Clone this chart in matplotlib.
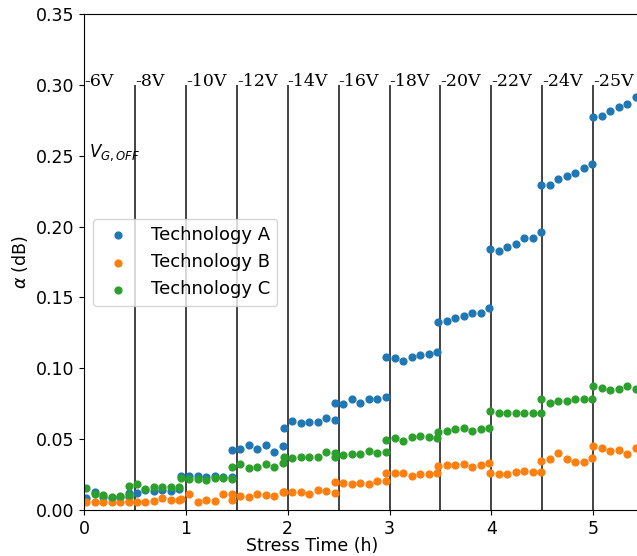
import numpy as np
import matplotlib.pyplot as plt

# gate-off stress voltage applied in each half-hour step
voltages = ['-6V', '-8V', '-10V', '-12V', '-14V', '-16V',
            '-18V', '-20V', '-22V', '-24V', '-25V']
step_times = [0.0, 0.5, 1.0, 1.5, 2.0, 2.5, 3.0, 3.5, 4.0, 4.5, 5.0]

# measurement start time of each step (h) and sampling interval (h)
seg_start = [0.02, 0.437, 0.95, 1.45, 1.96, 2.46, 2.97, 3.48, 3.99, 4.49, 5.0]
dt = 0.0834

# attenuation alpha (dB), one list per stress step
tech_a = [
    [0.0083, 0.0125, 0.0095, 0.0085, 0.0090, 0.0092],
    [0.0122, 0.0122, 0.0141, 0.0136, 0.0140, 0.0136, 0.0148],
    [0.0240, 0.0242, 0.0242, 0.0230, 0.0242, 0.0235, 0.0235],
    [0.0424, 0.0428, 0.0459, 0.0428, 0.0459, 0.0412, 0.0452],
    [0.0577, 0.0628, 0.0612, 0.0624, 0.0624, 0.0647, 0.0636],
    [0.0753, 0.0746, 0.0784, 0.0758, 0.0782, 0.0782, 0.0796],
    [0.1078, 0.1071, 0.1052, 0.1078, 0.1095, 0.1102, 0.1118],
    [0.1325, 0.1337, 0.1358, 0.1372, 0.1389, 0.1393, 0.1424],
    [0.1841, 0.1831, 0.1859, 0.1878, 0.1918, 0.1918, 0.1965],
    [0.2290, 0.2290, 0.2338, 0.2354, 0.2378, 0.2413, 0.2441],
    [0.2773, 0.2782, 0.2813, 0.2841, 0.2865, 0.2914, 0.2935],
]
tech_b = [
    [0.0059, 0.0057, 0.0059, 0.0058, 0.0059, 0.0060],
    [0.0059, 0.0059, 0.0059, 0.0060, 0.0083, 0.0070, 0.0070],
    [0.0075, 0.0115, 0.0054, 0.0070, 0.0066, 0.0110, 0.0070],
    [0.0110, 0.0099, 0.0090, 0.0110, 0.0104, 0.0099, 0.0125],
    [0.0129, 0.0125, 0.0125, 0.0113, 0.0141, 0.0134, 0.0122],
    [0.0200, 0.0193, 0.0184, 0.0193, 0.0184, 0.0207, 0.0207],
    [0.0259, 0.0259, 0.0264, 0.0242, 0.0252, 0.0252, 0.0259],
    [0.0313, 0.0318, 0.0318, 0.0322, 0.0301, 0.0318, 0.0330],
    [0.0264, 0.0254, 0.0254, 0.0270, 0.0278, 0.0270, 0.0270],
    [0.0346, 0.0358, 0.0400, 0.0358, 0.0341, 0.0341, 0.0365],
    [0.0454, 0.0435, 0.0419, 0.0424, 0.0395, 0.0435, 0.0430],
]
tech_c = [
    [0.0153, 0.0110, 0.0106, 0.0090, 0.0101, 0.0106],
    [0.0170, 0.0184, 0.0148, 0.0165, 0.0160, 0.0160, 0.0160],
    [0.0226, 0.0219, 0.0219, 0.0212, 0.0228, 0.0224, 0.0219],
    [0.0306, 0.0323, 0.0299, 0.0306, 0.0323, 0.0306, 0.0334],
    [0.0372, 0.0365, 0.0372, 0.0377, 0.0377, 0.0412, 0.0377],
    [0.0405, 0.0388, 0.0395, 0.0395, 0.0417, 0.0405, 0.0412],
    [0.0494, 0.0506, 0.0487, 0.0513, 0.0523, 0.0518, 0.0506],
    [0.0553, 0.0560, 0.0570, 0.0577, 0.0560, 0.0570, 0.0577],
    [0.0699, 0.0687, 0.0683, 0.0687, 0.0687, 0.0687, 0.0687],
    [0.0784, 0.0758, 0.0772, 0.0772, 0.0784, 0.0784, 0.0784],
    [0.0876, 0.0859, 0.0847, 0.0854, 0.0878, 0.0856, 0.0860],
]


def flatten(segments):
    t = []
    y = []
    for start, seg in zip(seg_start, segments):
        t.extend(start + dt * np.arange(len(seg)))
        y.extend(seg)
    return np.array(t), np.array(y)


fig = plt.figure(figsize=(6.37, 5.56), dpi=100)
# axes run past the right edge of the figure (the original is cropped)
ax = fig.add_axes([84 / 637, 46 / 556, 662 / 637, 496 / 556])
ax.set_xlim(0, 6.5)
ax.set_ylim(0, 0.35)

for t, v in zip(step_times, voltages):
    ax.vlines(t, 0, 0.30, color='#222222', lw=1.2, zorder=1)
    ax.text(t, 0.299, v, family='DejaVu Serif', fontsize=12.5,
            ha='left', va='baseline')

ax.text(0.05, 0.252, r'$V_{G,OFF}$', fontsize=12, ha='left', va='center')

for segs, name in [(tech_a, 'Technology A'), (tech_b, 'Technology B'),
                   (tech_c, 'Technology C')]:
    t, y = flatten(segs)
    ax.scatter(t, y, s=24, label=name, zorder=2)

ax.set_xticks(range(6))
ax.set_yticks(np.arange(0, 0.351, 0.05))
ax.yaxis.set_major_formatter(plt.FormatStrFormatter('%.2f'))
ax.tick_params(labelsize=12.5)
ax.set_xlabel('Stress Time (h)', fontsize=12.5)
ax.xaxis.set_label_coords((312 - 84) / 662, -0.055)
ax.set_ylabel(r'$\alpha$ (dB)', fontsize=12.5)

ax.legend(loc='upper left', bbox_to_anchor=(93 / 637, 1 - 219 / 556),
          bbox_transform=fig.transFigure, borderaxespad=0, fontsize=13)

fig.savefig('out.png', dpi=100)
